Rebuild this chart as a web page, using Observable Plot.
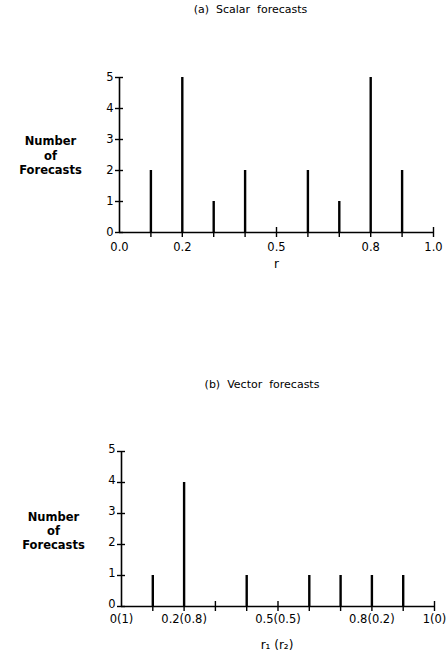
<!DOCTYPE html>
<html>
<head>
<meta charset="utf-8">
<script src="https://cdn.jsdelivr.net/npm/d3@7"></script>
<script src="https://cdn.jsdelivr.net/npm/@observablehq/plot@0.6"></script>
<style>
  body { margin: 0; background: #fff; }
  #chart { width: 447px; height: 652px; }
  svg { display: block; }
</style>
</head>
<body>
<div id="chart"></div>
<script>
// ---- data ----
const rValues = [0.1, 0.2, 0.3, 0.4, 0.5, 0.6, 0.7, 0.8, 0.9];
const scalarCounts = [2, 5, 1, 2, 0, 2, 1, 5, 2];
const vectorCounts = [1, 4, 0, 1, 0, 1, 1, 1, 1];
const yTicks = [0, 1, 2, 3, 4, 5];
const xLabelTicks = [0, 0.2, 0.5, 0.8, 1.0];
const scalarTickLabels = ["0.0", "0.2", "0.5", "0.8", "1.0"];
const vectorTickLabels = ["0(1)", "0.2(0.8)", "0.5(0.5)", "0.8(0.2)", "1(0)"];
const minorTicks = [0.1, 0.2, 0.3, 0.4, 0.5, 0.6, 0.7, 0.8, 0.9, 1.0];
const scalarUpTicks = [0.5, 1.0];
const vectorUpTicks = [0.3, 0.5, 1.0];
const scalarTitle = "(a)  Scalar  forecasts";
const vectorTitle = "(b)  Vector  forecasts";
const yLabel = "Number\nof\nForecasts";
const scalarXLabel = "r";
const vectorXLabel = "r\u2081 (r\u2082)";

const font = "'DejaVu Sans', Verdana, sans-serif";

function panel({counts, tickLabels, upTicks, title, xLabel, height, mt, mb, ml, mr,
                titleDx, titleDy, ylDx, ylDy, xlDx, xlDy, tickPad, yTickDy}) {
  const data = rValues.map((r, i) => ({r, n: counts[i]})).filter(d => d.n > 0);
  return Plot.plot({
    width: 447, height,
    marginTop: mt, marginBottom: mb, marginLeft: ml, marginRight: mr,
    style: {fontFamily: font, fontSize: "11px", color: "#000", background: "#fff", overflow: "visible"},
    x: {domain: [0, 1]},
    y: {domain: [0, 5]},
    marks: [
      // axis lines
      Plot.ruleX([0], {y1: 0, y2: 5, stroke: "#000", strokeWidth: 1.6}),
      Plot.ruleY([0], {x1: 0, x2: 1, stroke: "#000", strokeWidth: 1.6}),
      // y ticks crossing the axis
      Plot.ruleY(yTicks, {x1: 0, x2: 0, insetLeft: -4, insetRight: -4, stroke: "#000", strokeWidth: 1.4}),
      Plot.axisY({ticks: yTicks, tickSize: 0, tickPadding: 6, label: null, fontSize: 11.5, dy: yTickDy,
                  tickFormat: (d) => String(d)}),
      // x ticks down and up
      Plot.ruleX(minorTicks, {y1: 0, y2: 0, insetBottom: -5, stroke: "#000", strokeWidth: 1.4}),
      Plot.ruleX(upTicks, {y1: 0, y2: 0, insetTop: -5, stroke: "#000", strokeWidth: 1.4}),
      Plot.axisX({ticks: xLabelTicks, tickSize: 0, tickPadding: tickPad, label: null, fontSize: 11.5,
                  tickFormat: (d) => tickLabels[xLabelTicks.indexOf(d)]}),
      // bars
      Plot.ruleX(data, {x: "r", y1: 0, y2: "n", stroke: "#000", strokeWidth: 2.4}),
      // title
      Plot.text([title], {frameAnchor: "top", dx: titleDx, dy: titleDy, fontSize: 11,
                          fill: "#000", style: "letter-spacing:1px; white-space:pre"}),
      // y label
      Plot.text([yLabel], {frameAnchor: "left", dx: ylDx, dy: ylDy, fontSize: 11.5, fontWeight: "bold",
                           lineHeight: 1.25, textAnchor: "middle", fill: "#000"}),
      // x label
      Plot.text([xLabel], {frameAnchor: "bottom", dx: xlDx, dy: xlDy, fontSize: 12, fill: "#000"})
    ]
  });
}

const chart = document.getElementById("chart");
chart.append(panel({
  counts: scalarCounts, tickLabels: scalarTickLabels, upTicks: scalarUpTicks,
  title: scalarTitle, xLabel: scalarXLabel,
  height: 320, mt: 77, mb: 88, ml: 119, mr: 14,
  titleDx: -26, titleDy: -72, ylDx: -69, ylDy: 0, xlDx: 0, xlDy: 35, tickPad: 10, yTickDy: 0
}));
chart.append(panel({
  counts: vectorCounts, tickLabels: vectorTickLabels, upTicks: vectorUpTicks,
  title: vectorTitle, xLabel: vectorXLabel,
  height: 332, mt: 131, mb: 46, ml: 121, mr: 13,
  titleDx: -16, titleDy: -71, ylDx: -68, ylDy: 1.5, xlDx: -1, xlDy: 42, tickPad: 8, yTickDy: -2
}));
</script>
</body>
</html>
